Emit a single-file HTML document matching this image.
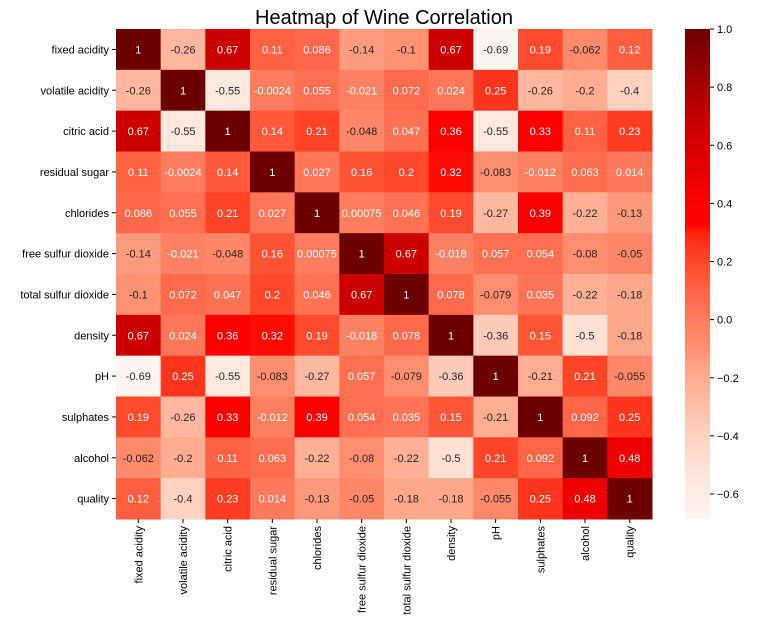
<!DOCTYPE html>
<html><head><meta charset="utf-8"><style>
body{margin:0;background:#fff;width:765px;height:625px;overflow:hidden}
svg{font-family:"Liberation Sans",sans-serif}
</style></head><body>
<svg id="c" width="765" height="625" xmlns="http://www.w3.org/2000/svg">
<text x="384" y="24" font-size="20" text-anchor="middle" fill="#000">Heatmap of Wine Correlation</text>
</svg>
<script>
const labels=["fixed acidity","volatile acidity","citric acid","residual sugar","chlorides","free sulfur dioxide","total sulfur dioxide","density","pH","sulphates","alcohol","quality"];
const matrix=[
["1","-0.26","0.67","0.11","0.086","-0.14","-0.1","0.67","-0.69","0.19","-0.062","0.12"],
["-0.26","1","-0.55","-0.0024","0.055","-0.021","0.072","0.024","0.25","-0.26","-0.2","-0.4"],
["0.67","-0.55","1","0.14","0.21","-0.048","0.047","0.36","-0.55","0.33","0.11","0.23"],
["0.11","-0.0024","0.14","1","0.027","0.16","0.2","0.32","-0.083","-0.012","0.063","0.014"],
["0.086","0.055","0.21","0.027","1","0.00075","0.046","0.19","-0.27","0.39","-0.22","-0.13"],
["-0.14","-0.021","-0.048","0.16","0.00075","1","0.67","-0.018","0.057","0.054","-0.08","-0.05"],
["-0.1","0.072","0.047","0.2","0.046","0.67","1","0.078","-0.079","0.035","-0.22","-0.18"],
["0.67","0.024","0.36","0.32","0.19","-0.018","0.078","1","-0.36","0.15","-0.5","-0.18"],
["-0.69","0.25","-0.55","-0.083","-0.27","0.057","-0.079","-0.36","1","-0.21","0.21","-0.055"],
["0.19","-0.26","0.33","-0.012","0.39","0.054","0.035","0.15","-0.21","1","0.092","0.25"],
["-0.062","-0.2","0.11","0.063","-0.22","-0.08","-0.22","-0.5","0.21","0.092","1","0.48"],
["0.12","-0.4","0.23","0.014","-0.13","-0.05","-0.18","-0.18","-0.055","0.25","0.48","1"]];
const cbTicks=[1.0,0.8,0.6,0.4,0.2,0.0,-0.2,-0.4,-0.6];
const vmin=-0.686, vmax=1.0;
const X0=116,X1=652,Y0=29,Y1=519,n=labels.length;
const cw=(X1-X0)/n, ch=(Y1-Y0)/n;
const cstops=[[-0.69,[255,245,240]],[-0.55,[255,232,222]],[-0.4,[255,210,192]],[-0.2,[255,172,145]],[-0.1,[255,145,115]],[0.0,[255,125,95]],[0.1,[255,100,70]],[0.2,[255,72,42]],[0.3,[255,35,15]],[0.33,[255,0,0]],[0.4,[250,0,0]],[0.67,[205,0,0]],[1.0,[108,0,0]]];
function cmap(v){
 if(v<=cstops[0][0])return cstops[0][1];
 for(let i=1;i<cstops.length;i++){if(v<=cstops[i][0]){const a=cstops[i-1],b=cstops[i],f=(v-a[0])/(b[0]-a[0]);return a[1].map((c,k)=>Math.round(c+(b[1][k]-c)*f));}}
 return cstops[cstops.length-1][1];
}
const svg=document.getElementById('c'),NS="http://www.w3.org/2000/svg";
function mk(tag,attrs,parent){const e=document.createElementNS(NS,tag);for(const k in attrs)e.setAttribute(k,attrs[k]);(parent||svg).appendChild(e);return e;}
const xs=i=>X0+i*cw, ys=j=>Y0+j*ch;
for(let r=0;r<n;r++)for(let c=0;c<n;c++){
 const v=parseFloat(matrix[r][c]),col=cmap(v);
 const rect=mk('rect',{x:xs(c),y:ys(r),width:cw+0.5,height:ch+0.5,fill:`rgb(${col})`});
 
 
 const t=mk('text',{x:xs(c)+cw/2,y:ys(r)+ch/2+4,'font-size':11,'text-anchor':'middle',fill:v>-0.035?'#fff':'#262626'});
 t.textContent=matrix[r][c];
 
 
}
labels.forEach((l,i)=>{
 const y=ys(i)+ch/2;
 mk('line',{x1:X0-4,x2:X0,y1:y,y2:y,stroke:'#000','stroke-width':1});
 const t=mk('text',{x:X0-7,y:y+4,'font-size':11,'text-anchor':'end',fill:'#000'});
 t.textContent=l;
 
 
 const x=xs(i)+cw/2;
 mk('line',{x1:x,x2:x,y1:Y1,y2:Y1+4,stroke:'#000','stroke-width':1});
 const t2=mk('text',{x:0,y:0,'font-size':11,'text-anchor':'end',fill:'#000',transform:`translate(${x+4},${Y1+7}) rotate(-90)`});
 t2.textContent=l;
 
 
});
const CX=685,CW=25;
const defs=mk('defs',{});
const g=mk('linearGradient',{id:'cb',x1:0,y1:1,x2:0,y2:0},defs);
for(let k=0;k<=100;k++){const v=vmin+(vmax-vmin)*k/100;mk('stop',{offset:k/100,'stop-color':`rgb(${cmap(v)})`},g);}
const cb=mk('rect',{x:CX,y:Y0,width:CW,height:Y1-Y0,fill:'url(#cb)'});


const cy=v=>Y1-(v-vmin)/(vmax-vmin)*(Y1-Y0);
cbTicks.forEach(v=>{
 const y=cy(v);
 mk('line',{x1:CX+CW,x2:CX+CW+4,y1:y,y2:y,stroke:'#000','stroke-width':1});
 const t=mk('text',{x:CX+CW+7,y:y+4,'font-size':11,fill:'#000'});
 t.textContent=v<0?'\u2212'+Math.abs(v).toFixed(1):v.toFixed(1);
 
 
});
</script>
</body></html>
